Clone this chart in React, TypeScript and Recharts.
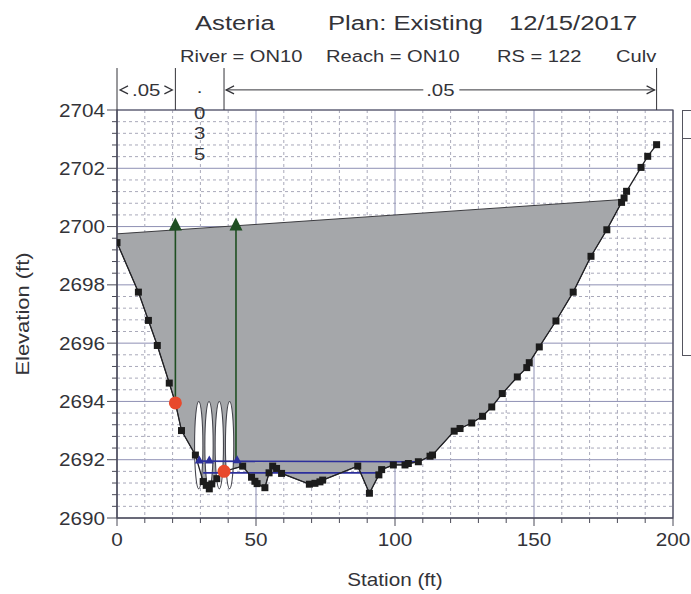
import React from "react";
import {
  ComposedChart,
  XAxis,
  YAxis,
  CartesianGrid,
  Area,
  Line,
  Scatter,
  ReferenceArea,
  ReferenceLine,
} from "recharts";

// ground profile, RS 122 (station ft, elevation ft)
const groundStations = [
  0, 7.7, 11.3, 14.5, 18.8, 21, 23.2, 28.2, 31, 32.1, 33.2, 34.1, 35.9, 38.5,
  45.2, 48.4, 49.6, 50.4, 53.2, 54.7, 56, 57.4, 59.2, 69.2, 71.2, 73, 74, 86.6,
  90.8, 94.2, 95.2, 99.4, 103.6, 104.8, 108.4, 112.6, 113.5, 121.3, 123.4,
  127.6, 131.5, 134.8, 138.6, 144, 147.4, 148.3, 151.9, 157.9, 164.1, 170.5,
  176.2, 181.5, 182.4, 183.3, 188.5, 190.9, 194.1,
];
const groundElevations = [
  2699.45, 2697.75, 2696.78, 2695.92, 2694.63, 2693.95, 2693.0, 2692.16,
  2691.25, 2691.12, 2691.0, 2691.17, 2691.35, 2691.6, 2691.78, 2691.4,
  2691.26, 2691.18, 2691.04, 2691.55, 2691.78, 2691.7, 2691.53, 2691.16,
  2691.19, 2691.24, 2691.3, 2691.78, 2690.85, 2691.48, 2691.66, 2691.82,
  2691.82, 2691.87, 2691.93, 2692.12, 2692.16, 2692.98, 2693.07, 2693.26,
  2693.49, 2693.81, 2694.27, 2694.84, 2695.16, 2695.33, 2695.87, 2696.76,
  2697.75, 2698.98, 2699.89, 2700.83, 2700.98, 2701.21, 2702.03, 2702.41,
  2702.81,
];

// top of road embankment
const deckStations = [0, 182];
const deckElevations = [2699.75, 2700.93];

// bank stations
const bankStations = [21, 38.5];
const bankElevations = [2693.95, 2691.6];

// four 3 ft circular culverts
const culvertCenters = [29.4, 33.1, 36.8, 40.5];
const culvertInvert = 2691;
const culvertRise = 3;
const culvertSpan = 3;

// culvert inverts, upstream / downstream
const upperInvertStations = [28.5, 108.4];
const upperInvertElevations = [2691.95, 2691.93];
const lowerInvertStations = [31, 93.5];
const lowerInvertElevations = [2691.55, 2691.55];
const invertMarkStations = [29.6, 33.2, 43.2];
const invertMarkElevations = [2691.97, 2691.97, 2691.98];

// ineffective flow limits
const ineffStations = [21, 42.8];
const ineffBottoms = [2693.95, 2692.0];
const ineffTop = 2700.07;

// Manning's n regions
const nBreaks = [0, 21, 38.5, 194.1];
const nValues = [".05", ".035", ".05"];

// every 5th minor tick is a labelled major tick (0, 50, ... / 2690, 2692, ...)
const xTicks = Array.from({ length: 21 }, (_, i) => i * 10);
const yTicks = Array.from({ length: 36 }, (_, i) => +(2690 + i * 0.4).toFixed(1));

const ground = groundStations.map((x, i) => ({ x, y: groundElevations[i] }));
const deck = deckStations.map((x, i) => ({ x, y: deckElevations[i] }));
// deck line out to the right abutment, then back along the ground
const embankment = [...deck, ...ground.filter((p) => p.x < deckStations[1]).reverse()];
const banks = bankStations.map((x, i) => ({ x, y: bankElevations[i] }));
const upperInvert = upperInvertStations.map((x, i) => ({ x, y: upperInvertElevations[i] }));
const lowerInvert = lowerInvertStations.map((x, i) => ({ x, y: lowerInvertElevations[i] }));
const invertMarks = invertMarkStations.map((x, i) => ({ x, y: invertMarkElevations[i] }));

const W = 691;
const H = 594;
const FONT = '"Liberation Sans", Arial, sans-serif';
const INK = "#333338";
const AXIS = "#4a4a58";
const BAND_TOP = 2705.44;
const BAND_ARROW = 2704.69;

function Txt({ x, y, size, sx = 1.2, anchor = "start", rotate = 0, children }: any) {
  const t = `translate(${x},${y})${rotate ? ` rotate(${rotate})` : ""} scale(${sx},1)`;
  return (
    <text transform={t} fontFamily={FONT} fontSize={size} textAnchor={anchor} fill={INK}>
      {children}
    </text>
  );
}

function XTick({ x, y, payload, index }: any) {
  const major = index % 5 === 0;
  return (
    <g>
      <line x1={x} x2={x} y1={y} y2={y + (major ? 8 : 5)} stroke={AXIS} />
      {major && (
        <Txt x={x} y={y + 28} size={18} sx={1.15} anchor="middle">
          {payload.value}
        </Txt>
      )}
    </g>
  );
}

function YTick({ x, y, payload, index }: any) {
  const major = index % 5 === 0;
  return (
    <g>
      <line x1={x - (major ? 10 : 5)} x2={x} y1={y} y2={y} stroke={AXIS} />
      {major && (
        <Txt x={x - 12} y={y + 6.5} size={18} sx={1.15} anchor="end">
          {payload.value}
        </Txt>
      )}
    </g>
  );
}

// grid: solid at major ticks, dashed between
function GridLine({ x1, y1, x2, y2, index }: any) {
  const major = index % 5 === 0;
  return (
    <line
      x1={x1}
      y1={y1}
      x2={x2}
      y2={y2}
      stroke={major ? "#8e90b4" : "#a9a9ba"}
      strokeWidth={1}
      strokeDasharray={major ? undefined : "3 3"}
    />
  );
}

function GroundDot({ cx, cy, index }: any) {
  return <rect key={`g${index}`} x={cx - 3.5} y={cy - 3.5} width={7} height={7} fill="#1c1c1c" />;
}

function InvertMark({ cx, cy }: any) {
  return <polygon points={`${cx},${cy - 5} ${cx - 4.5},${cy + 3} ${cx + 4.5},${cy + 3}`} fill="#2c2f9c" />;
}

function BankDot({ cx, cy }: any) {
  return <circle cx={cx} cy={cy} r={6.5} fill="#e8492c" />;
}

function ArrowHead({ index, cx, cy }: any) {
  if (index !== 1) return <g key={`a${index}`} />;
  return (
    <polygon
      key={`a${index}`}
      points={`${cx},${cy - 7} ${cx - 6.5},${cy + 6} ${cx + 6.5},${cy + 6}`}
      fill="#1f4f22"
    />
  );
}

function Culvert({ x, y, width, height }: any) {
  return (
    <ellipse
      cx={x + width / 2}
      cy={y + height / 2}
      rx={width / 2}
      ry={height / 2}
      fill="#ffffff"
      stroke="#45454d"
      strokeWidth={1.1}
    />
  );
}

// n-value region label between two break stations
function NRegion({ x1, x2, y1, label }: any) {
  const w = x2 - x1;
  const mid = (x1 + x2) / 2;
  const chev = (tip: number, dir: number) => (
    <polyline
      points={`${tip + dir * 8},${y1 - 4} ${tip},${y1} ${tip + dir * 8},${y1 + 4}`}
      fill="none"
      stroke={INK}
      strokeWidth={1.2}
    />
  );
  if (w < 54) {
    // too narrow: stack the characters
    const chars = label.split("");
    const offs = [3, 29, 49, 70];
    return (
      <g>
        {chars.map((c: string, i: number) => (
          <Txt key={i} x={mid} y={y1 + offs[i]} size={17} sx={1.2} anchor="middle">
            {c}
          </Txt>
        ))}
      </g>
    );
  }
  if (w < 90) {
    return (
      <g>
        {chev(x1 + 3, 1)}
        {chev(x2 - 3, -1)}
        <Txt x={mid} y={y1 + 6} size={17} sx={1.2} anchor="middle">
          {label}
        </Txt>
      </g>
    );
  }
  return (
    <g>
      <line x1={x1 + 2} x2={mid - 17} y1={y1} y2={y1} stroke={INK} />
      <line x1={mid + 19} x2={x2 - 2} y1={y1} y2={y1} stroke={INK} />
      {chev(x1 + 2, 1)}
      {chev(x2 - 2, -1)}
      <Txt x={mid} y={y1 + 6} size={17} sx={1.2} anchor="middle">
        {label}
      </Txt>
    </g>
  );
}

export default function App() {
  return (
    <div style={{ position: "fixed", left: 0, top: 0, width: W, height: H, background: "#fff" }}>
      <ComposedChart width={W} height={H} margin={{ top: 110, right: 18, bottom: 46, left: 57 }}>
        <XAxis
          dataKey="x"
          type="number"
          domain={[0, 200]}
          ticks={xTicks}
          interval={0}
          allowDataOverflow
          tickSize={0}
          tickMargin={0}
          tickLine={false}
          tick={<XTick />}
          stroke={AXIS}
          height={30}
        />
        <YAxis
          dataKey="y"
          type="number"
          domain={[2690, 2704]}
          ticks={yTicks}
          interval={0}
          allowDataOverflow
          tickSize={0}
          tickMargin={0}
          tickLine={false}
          tick={<YTick />}
          stroke={AXIS}
          width={60}
        />

        <CartesianGrid horizontal={<GridLine />} vertical={<GridLine />} />

        <Area
          data={embankment}
          dataKey="y"
          type="linear"
          fill="#a5a7aa"
          fillOpacity={1}
          stroke="#3c3c40"
          strokeWidth={1}
          dot={false}
          activeDot={false}
          isAnimationActive={false}
        />

        {culvertCenters.map((c) => (
          <ReferenceArea
            key={c}
            x1={c - culvertSpan / 2}
            x2={c + culvertSpan / 2}
            y1={culvertInvert}
            y2={culvertInvert + culvertRise}
            shape={<Culvert />}
          />
        ))}

        <ReferenceArea x1={0} x2={200} y1={2690} y2={2704} fill="none" stroke={AXIS} strokeWidth={1.2} />

        <Line
          data={upperInvert}
          dataKey="y"
          type="linear"
          stroke="#2c2f9c"
          strokeWidth={1.6}
          dot={false}
          activeDot={false}
          isAnimationActive={false}
        />
        <Line
          data={lowerInvert}
          dataKey="y"
          type="linear"
          stroke="#2c2f9c"
          strokeWidth={1.6}
          dot={false}
          activeDot={false}
          isAnimationActive={false}
        />

        {ineffStations.map((s, i) => (
          <Line
            key={`ineff${s}`}
            data={[
              { x: s, y: ineffBottoms[i] },
              { x: s, y: ineffTop },
            ]}
            dataKey="y"
            type="linear"
            stroke="#1f4f22"
            strokeWidth={1.6}
            dot={<ArrowHead />}
            activeDot={false}
            isAnimationActive={false}
          />
        ))}

        <Line
          data={ground}
          dataKey="y"
          type="linear"
          stroke="#222226"
          strokeWidth={1.3}
          dot={<GroundDot />}
          activeDot={false}
          isAnimationActive={false}
        />

        <Scatter data={invertMarks} dataKey="y" shape={<InvertMark />} isAnimationActive={false} />
        <Scatter data={banks} dataKey="y" shape={<BankDot />} isAnimationActive={false} />

        {nBreaks.map((s) => (
          <ReferenceLine
            key={`nb${s}`}
            segment={[
              { x: s, y: 2704 },
              { x: s, y: BAND_TOP },
            ]}
            ifOverflow="visible"
            stroke={INK}
            strokeWidth={1}
          />
        ))}
        {nValues.map((v, i) => (
          <ReferenceLine
            key={`nv${i}`}
            segment={[
              { x: nBreaks[i], y: BAND_ARROW },
              { x: nBreaks[i + 1], y: BAND_ARROW },
            ]}
            ifOverflow="visible"
            shape={(p: any) => <NRegion {...p} label={v} />}
          />
        ))}
      </ComposedChart>

      <svg
        width={W}
        height={H}
        style={{ position: "absolute", left: 0, top: 0, pointerEvents: "none" }}
      >
        <Txt x={195} y={30} size={21} sx={1.22}>Asteria</Txt>
        <Txt x={328} y={30} size={21} sx={1.22}>Plan: Existing</Txt>
        <Txt x={509} y={30} size={21} sx={1.22}>12/15/2017</Txt>

        <Txt x={180} y={62} size={16.5} sx={1.22}>River = ON10</Txt>
        <Txt x={326} y={62} size={16.5} sx={1.22}>Reach = ON10</Txt>
        <Txt x={497} y={62} size={16.5} sx={1.22}>RS = 122</Txt>
        <Txt x={616} y={62} size={16.5} sx={1.22}>Culv</Txt>

        <Txt x={29} y={314} size={18} sx={1.22} anchor="middle" rotate={-90}>
          Elevation (ft)
        </Txt>
        <Txt x={395} y={586} size={18} sx={1.15} anchor="middle">
          Station (ft)
        </Txt>

        <rect x={682.5} y={110.5} width={30} height={245} fill="none" stroke="#55555f" />
        <line x1={682.5} x2={700} y1={138.5} y2={138.5} stroke="#55555f" />
      </svg>
    </div>
  );
}
